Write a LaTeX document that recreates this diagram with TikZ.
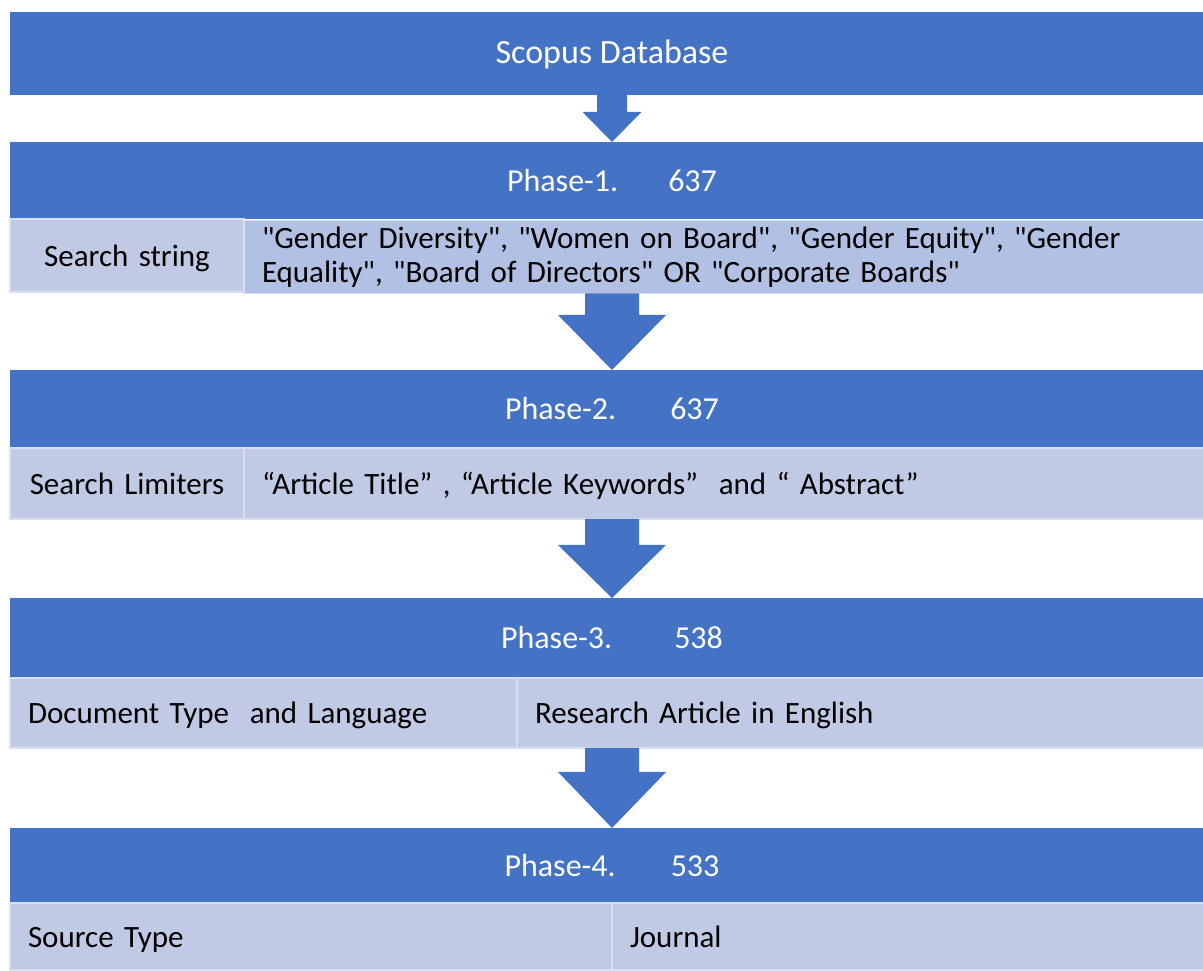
\documentclass[tikz,border=0pt]{standalone}
\usepackage{fontspec}
\setmainfont{Carlito}[Ligatures=TeXOff]
\usetikzlibrary{calc}

\definecolor{barblue}{HTML}{4472C4}
\definecolor{cellblue}{HTML}{C1CAE5}
\definecolor{cellmid}{HTML}{B2C0E3}
\definecolor{celledge}{HTML}{D9DEF0}

\begin{document}
\begin{tikzpicture}[x=1pt, y=1pt, font=\fontsize{32}{34}\selectfont,
  bar/.style={fill=barblue, text=white, inner sep=0pt, outer sep=0pt, minimum width=1204pt},
  cell/.style={fill=cellblue, draw=celledge, line width=1.5pt, inner xsep=18pt, inner ysep=0pt, outer sep=0pt,
    align=left, font=\fontsize{31}{34}\selectfont},
  oneline/.style={text height=27pt, text depth=5pt}]
  \useasboundingbox (0,0) rectangle (1203,970);

  % Fasebjælker
  \node[bar, minimum height=83pt, text height=24pt, text depth=4.5pt, font=\fontsize{34}{40}\selectfont] (scopus) at (612,916.5) {Scopus Database};
  \node[bar, minimum height=77pt] (ph1) at (612,789.5) {Phase-1.\hspace{50pt}637};
  \node[bar, minimum height=78pt] (ph2) at (612,561) {Phase-2.\hspace{54pt}637};
  \node[bar, minimum height=80pt] (ph3) at (612,332) {Phase-3.\hspace{62pt}538};
  \node[bar, minimum height=75pt] (ph4) at (612,104.5) {Phase-4.\hspace{55pt}533};

  % Kriterier under hver fase
  \node[cell, oneline, minimum height=73pt, inner xsep=4pt, text width=226pt, align=center] (s1l) at (127,714.5) {Search string};
  \node[cell, fill=cellmid, minimum height=73pt, text width=934pt] (s1r) at (729,713)
    {"Gender Diversity", "Women on Board", "Gender Equity", "Gender\\Equality", "Board of Directors" OR "Corporate Boards"};
  \node[cell, oneline, minimum height=71pt, inner xsep=4pt, text width=226pt, align=center] (s2l) at (127,486.5) {Search Limiters};
  \node[cell, oneline, minimum height=71pt, text width=934pt] (s2r) at (729,486.5)
    {“Article Title” , “Article Keywords”\ \ and “\ Abstract”};
  \node[cell, oneline, minimum height=70pt, text width=471pt] (s3l) at (263.5,257) {Document Type\ \ and Language};
  \node[cell, oneline, minimum height=70pt, text width=661pt] (s3r) at (865.5,257) {Research Article in English};
  \node[cell, oneline, minimum height=67pt, text width=566pt] (s4l) at (311,33.5) {Source Type};
  \node[cell, oneline, minimum height=67pt, text width=566pt] (s4r) at (913,33.5) {Journal};

  % Blokpile mellem faserne
  \foreach \a/\b/\w/\h/\l in {scopus/ph1/15/29.5/30, s1r/ph2/27/54/55, s2r/ph3/27/54/53, s3r/ph4/27/54/56}
    \fill[barblue] let \p1=(\a.south), \p2=(\b.north) in
      (\x2-\w,\y1) -- (\x2+\w,\y1) -- (\x2+\w,\y2+\l) -- (\x2+\h,\y2+\l) -- (\p2)
      -- (\x2-\h,\y2+\l) -- (\x2-\w,\y2+\l) -- cycle;
\end{tikzpicture}
\end{document}
